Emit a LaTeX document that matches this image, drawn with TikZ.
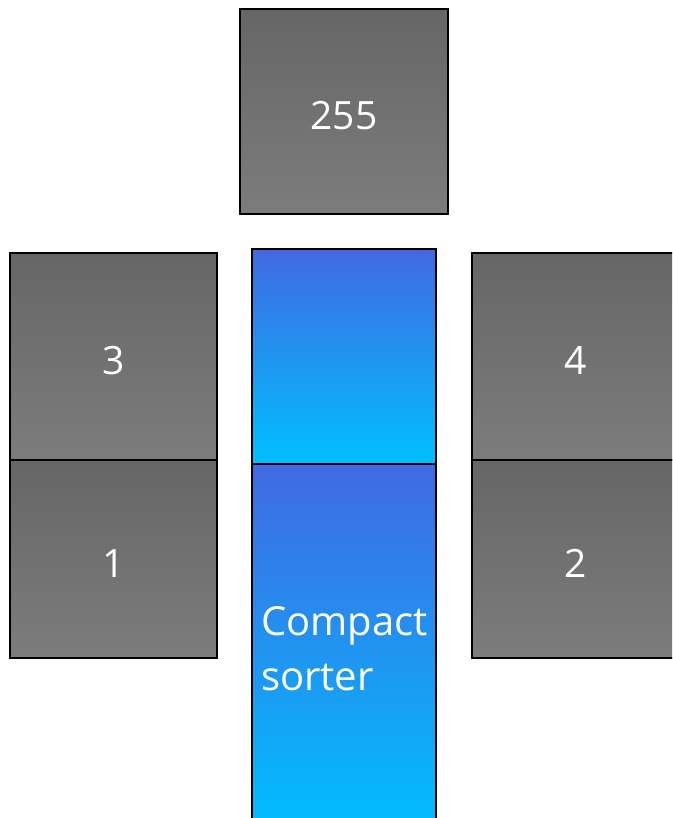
\documentclass[tikz,border=0pt]{standalone}
\usepackage{fontspec}
\setmainfont{Open Sans}
\begin{document}
\begin{tikzpicture}[x=1pt,y=-1pt,
  cell/.style={draw=black, line width=2pt, top color=gray40, bottom color=gray48,
    font=\fontsize{39}{46}\selectfont, text=white, inner sep=0pt,
    text height=36pt, text depth=0pt},
  lane/.style={draw=black, line width=2pt, top color=laneTop, bottom color=laneBottom,
    inner sep=0pt},
  tag/.style={font=\fontsize{40}{55}\selectfont, text=white, align=left, inner sep=0pt}]
  \definecolor{gray40}{HTML}{666666}
  \definecolor{gray48}{HTML}{7C7C7C}
  \definecolor{laneTop}{HTML}{4169E1}
  \definecolor{laneBottom}{HTML}{00BFFF}
  \useasboundingbox (0,0) rectangle (672,818);
  \clip (0,0) rectangle (672,818);
  \fill[white] (0,0) rectangle (672,818);

  % upper cell
  \node[cell, minimum width=208pt, minimum height=205pt] (c255) at (344,111.5) {255};

  % left column
  \node[cell, minimum width=207pt, minimum height=207pt] (c3) at (113.5,356.5) {3};
  \node[cell, minimum width=207pt, minimum height=198pt] (c1) at (113.5,559) {1};

  % right column
  \node[cell, minimum width=207pt, minimum height=207pt] (c4) at (575.5,356.5) {4};
  \node[cell, minimum width=207pt, minimum height=198pt] (c2) at (575.5,559) {2};

  % sorter lane
  \node[lane, minimum width=184pt, minimum height=215pt] (laneA) at (344,356.5) {};
  \node[lane, minimum width=184pt, minimum height=372pt] (laneB) at (344,650) {};
  \node[tag, anchor=west] (sorter) at (261,649) {Compact\\sorter};
\end{tikzpicture}
\end{document}
